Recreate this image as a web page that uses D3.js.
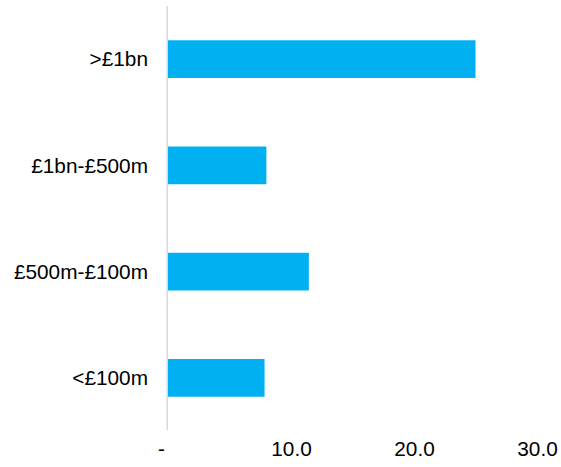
<!DOCTYPE html>
<html>
<head>
<meta charset="utf-8">
<script src="https://cdn.jsdelivr.net/npm/d3@7/dist/d3.min.js"></script>
<style>
  html, body { margin: 0; padding: 0; background: #fff; }
  svg text { font-family: "Liberation Sans", Arial, sans-serif; fill: #000; }
</style>
</head>
<body>
<svg id="chart" width="561" height="467"></svg>
<script>
// Categories (top to bottom) and their values
const categories = [">£1bn", "£1bn-£500m", "£500m-£100m", "<£100m"];
const values = [25.0, 8.0, 11.45, 7.85];
const tickValues = [0, 10, 20, 30];

const svg = d3.select("#chart");
const fontSize = 20.8;

const x = d3.scaleLinear().domain([0, 30]).range([168, 537]);
const y = d3.scaleBand()
  .domain(categories)
  .range([6, 431])
  .paddingInner(0.645)
  .paddingOuter(0.3225);

// Bars
svg.append("g")
  .selectAll("rect")
  .data(categories)
  .join("rect")
  .attr("x", x(0))
  .attr("y", d => y(d))
  .attr("width", (d, i) => x(values[i]) - x(0))
  .attr("height", y.bandwidth())
  .attr("fill", "#00B0F0");

// Vertical category axis line
svg.append("line")
  .attr("x1", x(0) - 0.75).attr("x2", x(0) - 0.75)
  .attr("y1", y.range()[0]).attr("y2", y.range()[1] - 1)
  .attr("stroke", "#d9d9d9")
  .attr("stroke-width", 1.5);

// Category labels
const yAxis = svg.append("g")
  .attr("transform", `translate(${x(0) - 20},0)`)
  .call(d3.axisLeft(y).tickSize(0).tickPadding(0));
yAxis.select(".domain").remove();
yAxis.selectAll("text")
  .attr("font-size", fontSize)
  .attr("font-family", "Liberation Sans, Arial, sans-serif")
  .attr("fill", "#000")
  .attr("dy", "0.35em");

// Value axis labels
const fmt = d3.format(".1f");
const xAxis = svg.append("g")
  .attr("transform", "translate(0,441)")
  .call(d3.axisBottom(x).tickValues(tickValues).tickSize(0).tickPadding(0)
    .tickFormat(d => d === 0 ? "-" : fmt(d)));
xAxis.select(".domain").remove();
xAxis.selectAll("text")
  .attr("font-size", fontSize)
  .attr("font-family", "Liberation Sans, Arial, sans-serif")
  .attr("fill", "#000")
  .attr("dy", "0.71em")
  .attr("dx", d => d === 0 ? -7 : 0);
</script>
</body>
</html>
